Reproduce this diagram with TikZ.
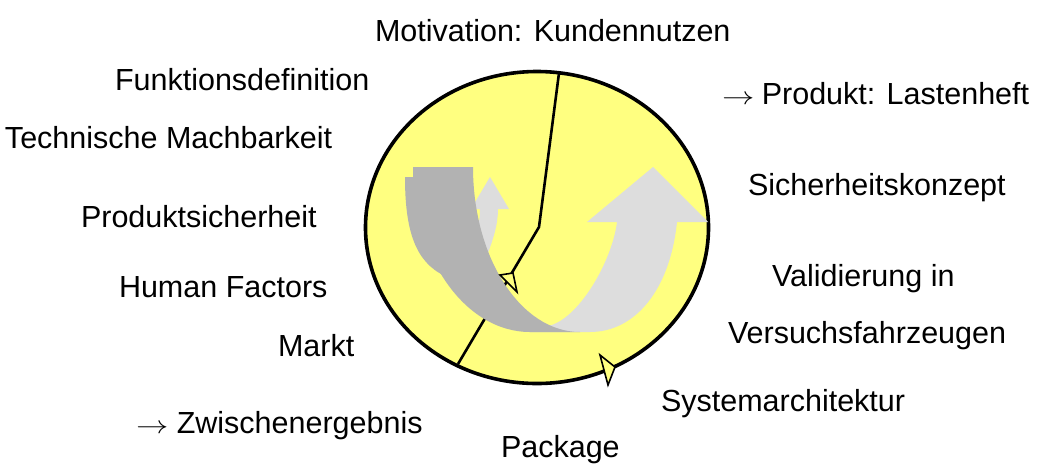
\documentclass[tikz,border=0pt]{standalone}
\usepackage{graphicx}
\usepackage{fontspec}
\setmainfont{Liberation Sans}
\definecolor{ringyellow}{RGB}{255,255,128}
\definecolor{darkband}{RGB}{178,178,178}
\definecolor{lightband}{RGB}{221,221,221}
\newcommand{\rarr}{\scalebox{1.3}[1]{$\rightarrow$}}
\begin{document}
\begin{tikzpicture}[x=1pt,y=-1pt,
  lbl/.style={font=\fontsize{30.5}{36}\selectfont, anchor=base west, inner sep=0pt, outer sep=0pt},
  ring/.style={fill=ringyellow, draw=black, line width=3.6pt},
  divider/.style={draw=black, line width=2.6pt},
  marker/.style={fill=ringyellow, draw=black, line width=1.6pt, line join=miter},
  darkfill/.style={fill=darkband, draw=none},
  lightfill/.style={fill=lightband, draw=none}]
\useasboundingbox (0,0) rectangle (1044,475);

% ring
\draw[ring] (537,227.5) ellipse [x radius=171.5pt, y radius=156pt];

% dividing line
\coordinate (dtop) at (559,73);
\coordinate (dbend) at (539,227);
\coordinate (dbot) at (458,364);
\draw[divider] (dtop) -- (dbend) -- (dbot);

% small light arrow
\fill[lightfill] (486,258) .. controls (493,240) and (498,225) .. (498,209)
  -- (509,209) -- (490,177) -- (471,209) -- (480,209)
  .. controls (480,225) and (475,245) .. (465,262) -- cycle;

% big light arrow
\fill[lightfill] (548,326) .. controls (578,320) and (612,262) .. (617,222)
  -- (587,222) -- (653,167) -- (708,222) -- (677,222)
  .. controls (670,290) and (635,332) .. (590,332)
  -- (530,332) -- (530,326) -- cycle;

% dark band, rear part
\fill[darkfill] (445,276) .. controls (415,262) and (405,230) .. (405,177)
  -- (470,177) -- (470,260) -- cycle;
% dark band, front part
\fill[darkfill] (413,167) arc[start angle=180, end angle=270, x radius=117pt, y radius=165pt]
  -- (580,332) arc[start angle=270, end angle=180, x radius=107pt, y radius=165pt]
  -- cycle;

% arrow markers
\draw[marker] (500,275) -- (513,273) -- (517,292) -- cycle;
\draw[marker] (600,355) -- (615,367) -- (608,385) -- cycle;

% labels
\node[lbl] (motiv) at (375,41) {Motivation: Kundennutzen};
\node[lbl] (funkt) at (115,90) {Funktionsdefinition};
\node[lbl] (techn) at (5,148) {Technische Machbarkeit};
\node[lbl] (produkt) at (722,104) {\rarr\hspace{-1pt} Produkt: Lastenheft};
\node[lbl] (sicher) at (748,195) {Sicherheitskonzept};
\node[lbl] (psicher) at (81,227) {Produktsicherheit};
\node[lbl] (valid) at (772,286) {Validierung in};
\node[lbl] (human) at (119,297) {Human Factors};
\node[lbl] (versuch) at (728,343) {Versuchsfahrzeugen};
\node[lbl] (markt) at (278,356) {Markt};
\node[lbl] (system) at (661,411) {Systemarchitektur};
\node[lbl] (zwischen) at (136,433) {\rarr\ Zwischenergebnis};
\node[lbl] (package) at (501,457) {Package};
\end{tikzpicture}
\end{document}
